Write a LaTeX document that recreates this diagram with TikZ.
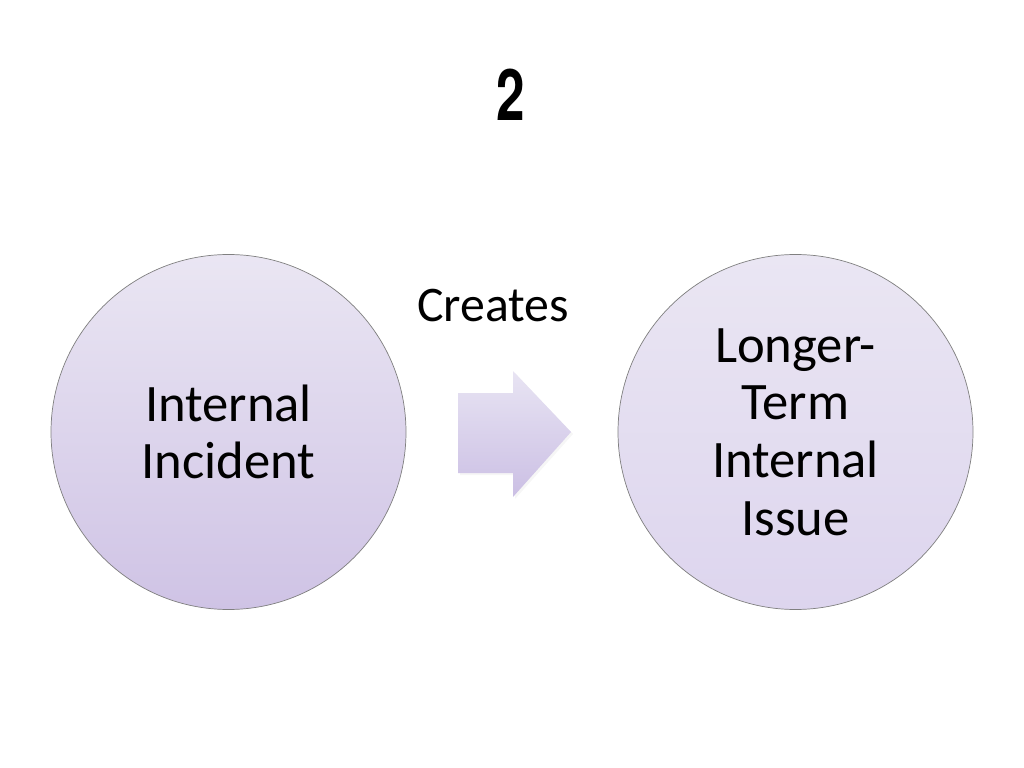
\documentclass[tikz,border=0pt]{standalone}
\usepackage{fontspec}
\setmainfont{Carlito}
\newfontfamily\titlefont{TeX Gyre Heros}
\definecolor{circtop}{HTML}{EAE6F3}
\definecolor{circbotL}{HTML}{CFC3E5}
\definecolor{circbotR}{HTML}{DDD5EE}
\definecolor{arrtop}{HTML}{E8E4F3}
\definecolor{arrbot}{HTML}{CBBFE4}
\tikzset{
  bubble/.style={circle, draw=black!50, line width=0.5pt, minimum size=355*0.703pt, inner sep=0pt, align=center, font=\fontsize{37}{40.5}\selectfont},
  label/.style={font=\fontsize{35}{40}\selectfont, inner sep=0pt},
}
\begin{document}
\begin{tikzpicture}[x=0.703pt,y=-0.703pt]
\useasboundingbox (0,0) rectangle (1024,768);
\node[inner sep=0pt] (title) at (511,95) {\scalebox{0.72}[1]{\titlefont\bfseries\fontsize{50}{50}\selectfont 2}};
\node[bubble, top color=circtop, bottom color=circbotL] (inc) at (228.5,432) {Internal\\Incident};
\node[bubble, top color=circtop, bottom color=circbotR] (iss) at (795.5,432) {Longer-\\Term\\Internal\\Issue};
\node[label] (cr) at (493,306) {Creates};
\fill[black!6, opacity=0.6] (460,395) -- (515,395) -- (515,373) -- (573,434) -- (515,499) -- (515,475) -- (460,475) -- cycle;
\shade[top color=arrtop, bottom color=arrbot] (458,393) -- (513,393) -- (513,371) -- (571,432) -- (513,497) -- (513,473) -- (458,473) -- cycle;
\end{tikzpicture}
\end{document}
